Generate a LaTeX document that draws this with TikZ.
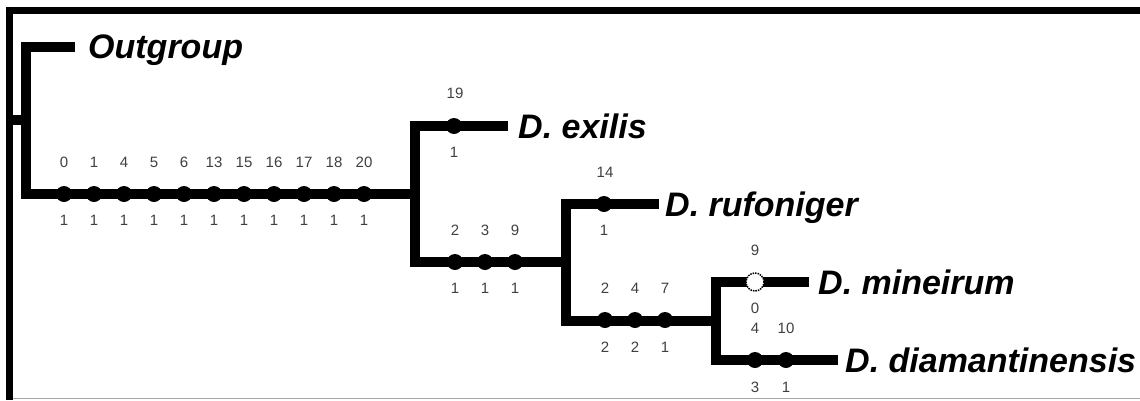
\documentclass[tikz,border=0pt]{standalone}
\usepackage{fontspec}
\newfontfamily\taxonfont{Liberation Sans}
\newfontfamily\numfont{Liberation Sans}
\tikzset{
  branch/.style={line width=9.5pt, line join=miter, line cap=butt},
  frameline/.style={line width=7pt, line join=miter},
  dotc/.style={circle, fill=black, inner sep=0pt, minimum size=16pt},
  odot/.style={circle, fill=white, draw=black, densely dotted, line width=1.5pt, inner sep=0pt, minimum size=18pt},
  num/.style={font=\numfont\fontsize{15}{15}\selectfont, text=black!75, inner sep=0pt},
  taxon/.style={font=\taxonfont\bfseries\itshape\fontsize{34}{40}\selectfont, inner sep=0pt, anchor=base west}
}
\begin{document}
\begin{tikzpicture}[x=1pt, y=-1pt]
\useasboundingbox (0,0) rectangle (1140,400);
\fill[white] (0,0) rectangle (1140,400);
% frame
\coordinate (fb) at (9.5,400);
\coordinate (ftl) at (9.5,10.5);
\coordinate (ftr) at (1140,10.5);
\draw[frameline] (fb) -- (ftl) -- (ftr);
\coordinate (gb1) at (13,398.5);
\coordinate (gb2) at (1140,398.5);
\draw[black!35, line width=1.5pt] (gb1) -- (gb2);
% tree coordinates
\coordinate (lb) at (9.5,120);
\coordinate (root) at (26,120);
\coordinate (n1) at (415,194);
\coordinate (n2) at (566,262);
\coordinate (n3) at (716,321);
\coordinate (tOut) at (75,47);
\coordinate (tExi) at (508,126);
\coordinate (tRuf) at (659,204);
\coordinate (tMin) at (809,282);
\coordinate (tDia) at (838,360);
% branches
\draw[branch] (lb) -- (root);
\draw[branch] (tOut) -| (root) |- (n1);
\draw[branch] (tExi) -| (n1) |- (n2);
\draw[branch] (tRuf) -| (n2) |- (n3);
\draw[branch] (tMin) -| (n3) |- (tDia);
% taxa
\node[taxon] (lOut) at (88,58) {Outgroup};
\node[taxon] (lExi) at (518,138) {D. exilis};
\node[taxon] (lRuf) at (665,216) {D. rufoniger};
\node[taxon] (lMin) at (818,294) {D. mineirum};
\node[taxon] (lDia) at (845,372) {D. diamantinensis};
% main branch characters
\foreach \t [count=\i from 0] in {0,1,4,5,6,13,15,16,17,18,20} {
  \node[dotc] (m\i) at ({64+30*\i},194) {};
  \node[num] (mu\i) at ({64+30*\i},162) {\t};
  \node[num] (md\i) at ({64+30*\i},220) {1};
}
% D. exilis
\node[dotc] (e0) at (454,126) {};
\node[num] (eu0) at (455,93) {19};
\node[num] (ed0) at (454,152) {1};
% clade 2
\foreach \x/\t/\b [count=\i] in {455/2/1, 485/3/1, 515/9/1} {
  \node[dotc] (c\i) at (\x,262) {};
  \node[num] (cu\i) at (\x,230) {\t};
  \node[num] (cd\i) at (\x,288) {\b};
}
% D. rufoniger
\node[dotc] (r0) at (604,204) {};
\node[num] (ru0) at (605,172) {14};
\node[num] (rd0) at (604,230) {1};
% clade 3
\foreach \x/\t/\b [count=\i] in {605/2/2, 635/4/2, 665/7/1} {
  \node[dotc] (k\i) at (\x,320) {};
  \node[num] (ku\i) at (\x,288) {\t};
  \node[num] (kd\i) at (\x,347) {\b};
}
% D. mineirum
\node[odot] (o0) at (755,282) {};
\node[num] (ou0) at (755,250) {9};
\node[num] (od0) at (755,308) {0};
% D. diamantinensis
\foreach \x/\t/\b [count=\i] in {755/4/3, 786/10/1} {
  \node[dotc] (d\i) at (\x,360) {};
  \node[num] (du\i) at (\x,328) {\t};
  \node[num] (dd\i) at (\x,387) {\b};
}
\end{tikzpicture}
\end{document}
